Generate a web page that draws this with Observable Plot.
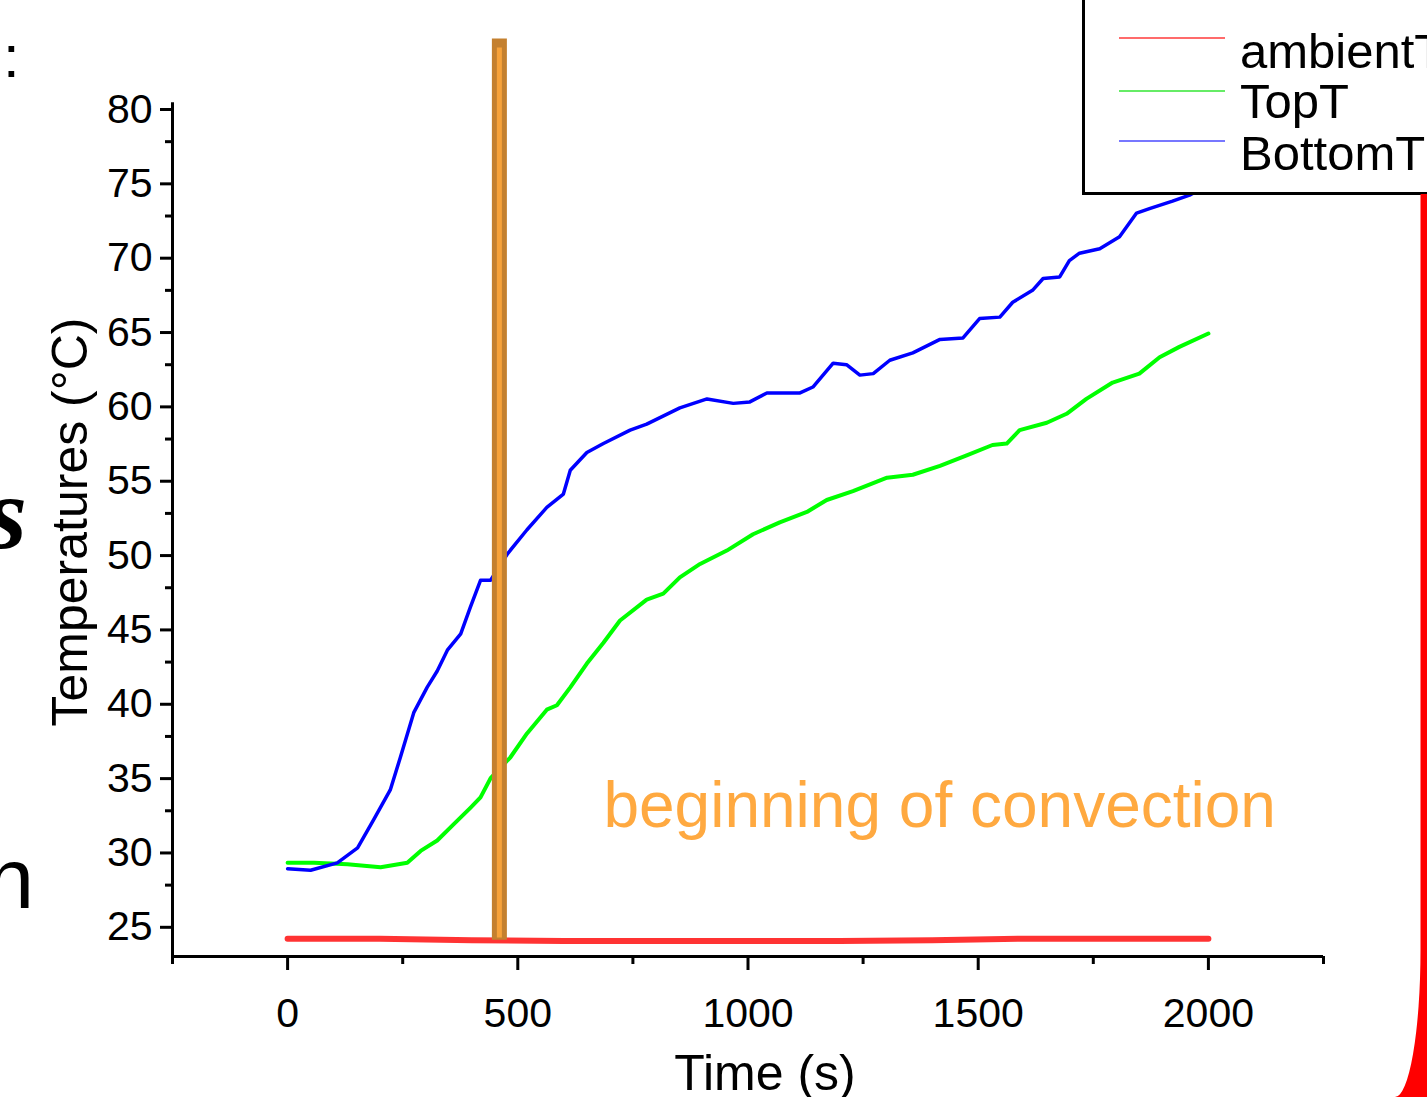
<!DOCTYPE html>
<html><head><meta charset="utf-8">
<script src="https://cdn.jsdelivr.net/npm/d3@7"></script>
<script src="https://cdn.jsdelivr.net/npm/@observablehq/plot@0.6"></script>
<style>
html,body{margin:0;padding:0;background:#fff;}
#wrap{position:relative;width:1427px;height:1097px;overflow:hidden;font-family:"Liberation Sans",Arial,sans-serif;}
#wrap svg{position:absolute;left:0;top:0;}
</style></head><body><div id="wrap"></div>
<script>
// ---- data ----
const timeBottom = [0, 50, 108, 152, 187, 223, 245, 274, 303, 325, 347, 376, 397, 419, 441, 478, 520, 563, 599, 614, 650, 686, 744, 780, 852, 911, 968, 1004, 1041, 1113, 1141, 1185, 1214, 1243, 1272, 1308, 1358, 1417, 1467, 1503, 1547, 1575, 1618, 1641, 1677, 1698, 1720, 1764, 1807, 1844, 1872, 1922, 1959, 2000];
const bottomT    = [28.6, 28.5, 29.0, 30.0, 31.9, 33.9, 36.1, 39.1, 40.8, 41.9, 43.3, 44.4, 46.2, 48.0, 48.0, 49.8, 51.4, 52.9, 53.8, 55.4, 56.6, 57.2, 58.1, 58.5, 59.6, 60.2, 59.9, 60.0, 60.6, 60.6, 61.0, 62.6, 62.5, 61.8, 61.9, 62.8, 63.3, 64.2, 64.3, 65.6, 65.7, 66.7, 67.5, 68.3, 68.4, 69.5, 70.0, 70.3, 71.1, 72.7, 73.0, 73.5, 73.9, 74.6];

const timeTop = [0, 57, 130, 202, 260, 289, 325, 361, 397, 419, 441, 484, 520, 563, 585, 614, 650, 686, 722, 780, 816, 852, 896, 954, 1011, 1069, 1128, 1171, 1228, 1302, 1358, 1417, 1475, 1531, 1562, 1590, 1649, 1692, 1735, 1792, 1850, 1894, 1937, 2000];
const topT    = [29.0, 29.0, 28.9, 28.7, 29.0, 29.8, 30.5, 31.6, 32.7, 33.4, 34.7, 36.1, 37.7, 39.3, 39.6, 40.8, 42.4, 43.8, 45.3, 46.7, 47.1, 48.2, 49.1, 50.0, 51.1, 51.9, 52.6, 53.4, 54.0, 54.9, 55.1, 55.7, 56.4, 57.1, 57.2, 58.1, 58.6, 59.2, 60.2, 61.3, 61.9, 63.0, 63.7, 64.6];

const timeAmbient = [0, 200, 400, 600, 800, 1000, 1200, 1400, 1600, 1800, 2000];
const ambientT    = [23.9, 23.9, 23.8, 23.75, 23.75, 23.75, 23.75, 23.8, 23.9, 23.9, 23.9];

const seriesNames  = ["ambientT", "TopT", "BottomT"];
const seriesColors = ["#ff0000", "#00ff00", "#0000ff"];
const legendColors = ["#ff3a3a", "#33e633", "#4a4aff"];

const xMajorTicks = [0, 500, 1000, 1500, 2000];
const xMinorTicks = [-250, 250, 750, 1250, 1750, 2250];
const yMajorTicks = [25, 30, 35, 40, 45, 50, 55, 60, 65, 70, 75, 80];
const yMinorTicks = [27.5, 32.5, 37.5, 42.5, 47.5, 52.5, 57.5, 62.5, 67.5, 72.5, 77.5];

const convectionStart = 460;
const convectionSpan = [23.8, 84.4];
const annotation = [{t: 686, T: 32.8, label: "beginning of convection"}];

const xDomain = [-250, 2250];
const yDomain = [22.7, 80];

// ---- build tidy table ----
const rows = [
  ...timeAmbient.map((t, i) => ({t, T: ambientT[i], s: seriesNames[0]})),
  ...timeTop.map((t, i) => ({t, T: topT[i], s: seriesNames[1]})),
  ...timeBottom.map((t, i) => ({t, T: bottomT[i], s: seriesNames[2]}))
];

const font = "'Liberation Sans', Arial, sans-serif";

const chart = Plot.plot({
  width: 1427, height: 1097,
  marginLeft: 172, marginRight: 104, marginTop: 104, marginBottom: 141,
  style: {background: "transparent", fontFamily: font, overflow: "visible", color: "#000"},
  x: {domain: xDomain, label: null},
  y: {domain: yDomain, label: null},
  color: {domain: seriesNames, range: seriesColors},
  marks: [
    // minor + major ticks
    Plot.axisX({ticks: xMinorTicks, tickSize: 8, tickFormat: () => "", strokeWidth: 3}),
    Plot.axisX({ticks: xMajorTicks, tickSize: 14, tickPadding: 27, fontSize: 41, strokeWidth: 3, tickFormat: d => String(d)}),
    Plot.axisY({ticks: yMinorTicks, tickSize: 7, tickFormat: () => "", strokeWidth: 3}),
    Plot.axisY({ticks: yMajorTicks, tickSize: 12, tickPadding: 8, fontSize: 41, strokeWidth: 3, dy: 5, tickFormat: d => String(d)}),
    // axis lines
    Plot.ruleX([xDomain[0]], {y1: yDomain[0] - 0.08, y2: yDomain[1] + 0.12, strokeWidth: 3, stroke: "#000"}),
    Plot.ruleY([yDomain[0]], {x1: xDomain[0], x2: xDomain[1], strokeWidth: 3, stroke: "#000"}),
    // series
    Plot.line(rows.filter(d => d.s === "ambientT"), {x: "t", y: "T", stroke: "s", strokeWidth: 6, strokeOpacity: 0.8}),
    Plot.line(rows.filter(d => d.s === "TopT"), {x: "t", y: "T", stroke: "s", strokeWidth: 4}),
    Plot.line(rows.filter(d => d.s === "BottomT"), {x: "t", y: "T", stroke: "s", strokeWidth: 3.5}),
    // convection marker
    Plot.ruleX([convectionStart], {y1: convectionSpan[0], y2: convectionSpan[1], stroke: "#c4802f", strokeWidth: 15}),
    Plot.ruleX([convectionStart], {y1: convectionSpan[0] + 0.15, y2: convectionSpan[1] - 0.6, stroke: "#f7a23a", strokeWidth: 5}),
    Plot.text(annotation, {x: "t", y: "T", text: "label", textAnchor: "start", fontSize: 64, fill: "#ffa940"})
  ]
});

const wrap = document.getElementById("wrap");
wrap.appendChild(chart);

// ---- overlay: legend, axis titles, slide fragments ----
const ov = d3.select(wrap).append("svg")
  .attr("width", 1427).attr("height", 1097)
  .style("font-family", font);

// y-axis title
ov.append("text").attr("transform", "translate(87,522) rotate(-90)")
  .attr("text-anchor", "middle").attr("font-size", 50).text("Temperatures (°C)");
// x-axis title
ov.append("text").attr("x", 765).attr("y", 1090)
  .attr("text-anchor", "middle").attr("font-size", 50).text("Time (s)");

// legend box
ov.append("rect").attr("x", 1083.5).attr("y", -10).attr("width", 420).attr("height", 203.5)
  .attr("fill", "#fff").attr("stroke", "#000").attr("stroke-width", 3);
const legY = [38, 91, 141];
const legBase = [68, 118, 170];
seriesNames.forEach((name, i) => {
  ov.append("line").attr("x1", 1119).attr("x2", 1225).attr("y1", legY[i]).attr("y2", legY[i])
    .attr("stroke", legendColors[i]).attr("stroke-width", 1.5);
  ov.append("text").attr("x", 1240).attr("y", legBase[i]).attr("font-size", 49).text(name);
});

// red slide decoration at right edge
ov.append("path")
  .attr("d", "M1427,194 L1420.5,194 L1420.5,950 A25.5,147 0 0 1 1395,1097 L1427,1097 Z")
  .attr("fill", "#ff0000");

// cut-off slide text fragments at the left edge
ov.append("text").attr("x", 3).attr("y", 77).attr("font-size", 60).text(":");
ov.append("text").attr("x", 27).attr("y", 548).attr("text-anchor", "end")
  .attr("font-size", 104).attr("font-weight", "bold").attr("font-style", "italic")
  .attr("font-family", "'Liberation Serif', serif").text("s");
ov.append("text").attr("x", 34).attr("y", 908).attr("text-anchor", "end")
  .attr("font-size", 86).text("n");
</script></body></html>
